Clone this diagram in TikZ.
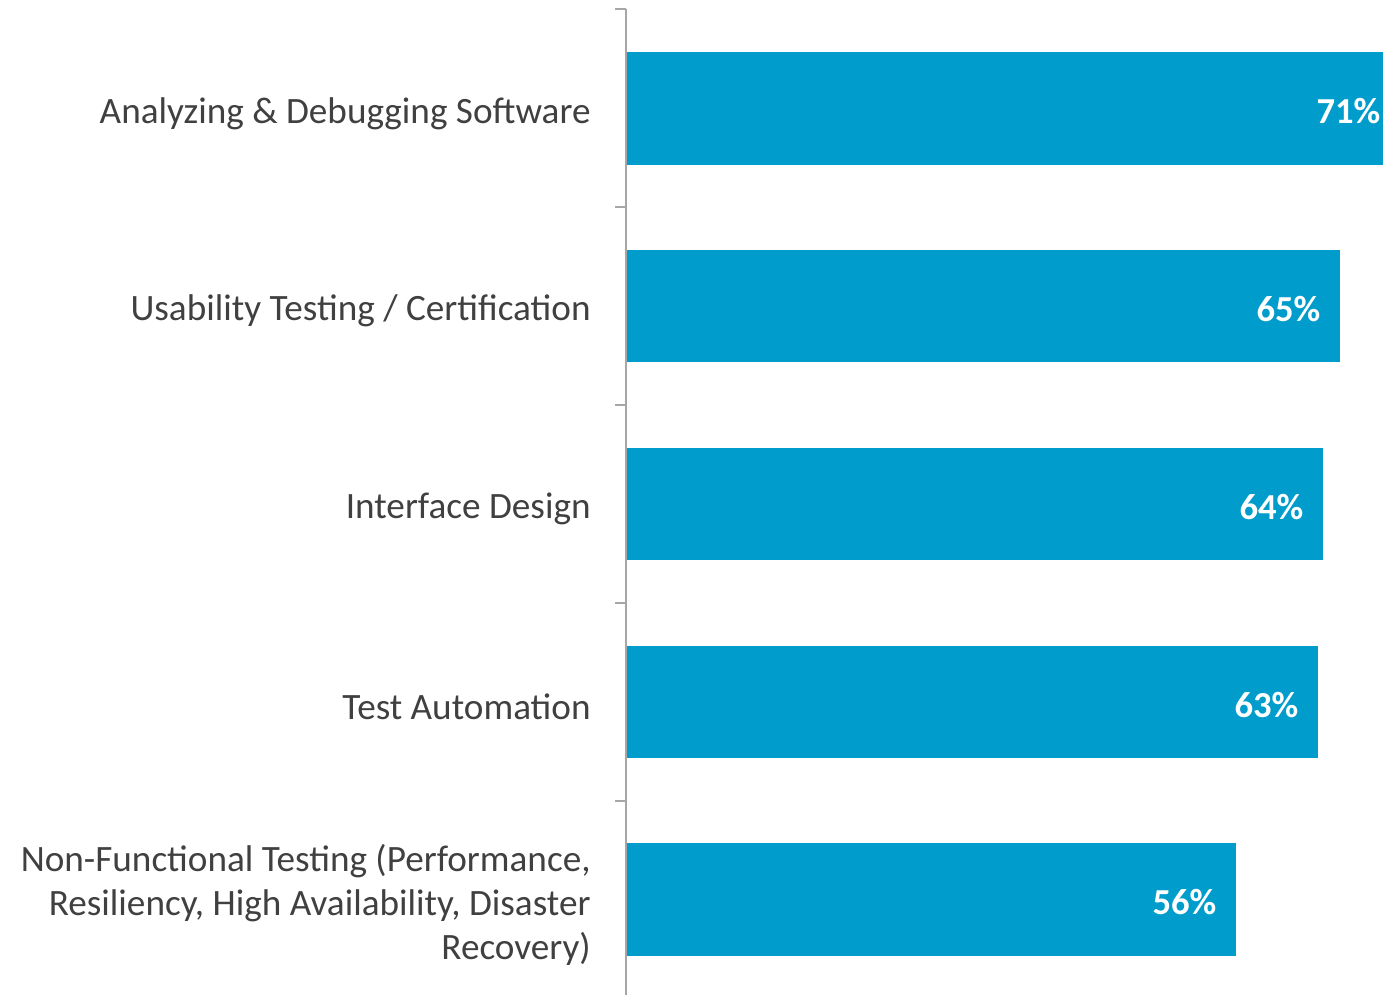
\documentclass[tikz,border=0pt]{standalone}
\usepackage{fontspec}
\setmainfont{Carlito}
\usetikzlibrary{positioning}
\definecolor{barblue}{HTML}{009CCB}
\definecolor{axisgray}{HTML}{A6A6A6}
\definecolor{labelgray}{HTML}{404040}
\tikzset{
  bar/.style={fill=barblue, draw=none, inner sep=0pt, minimum height=56.25pt, anchor=west},
  catlabel/.style={text=labelgray, align=right, anchor=east, inner sep=0pt,
    yshift=-2.5pt, font=\fontsize{18.6}{22}\selectfont},
  pct/.style={text=white, anchor=east, inner sep=0pt, yshift=-1.5pt,
    font=\fontsize{18.3}{22}\selectfont\bfseries}
}
\begin{document}
\begin{tikzpicture}[x=0.5pt, y=-0.5pt]
      \useasboundingbox (0,0) rectangle (1383,995);
      % axis
      \coordinate (top) at (626,9);
      \coordinate (bottom) at (626,995);
      \draw[axisgray, line width=1pt] (top) -- (bottom);
      \draw[axisgray, line width=1pt]
        (615,9) -- (626,9)
        (615,207) -- (626,207)
        (615,405) -- (626,405)
        (615,603) -- (626,603)
        (615,801) -- (626,801);
      % bars
      \node[bar, minimum width=378pt] (b1) at (627,108.5) {};
      \node[bar, minimum width=356.5pt] (b2) at (627,306) {};
      \node[bar, minimum width=348pt] (b3) at (627,504) {};
      \node[bar, minimum width=345.5pt] (b4) at (627,702) {};
      \node[bar, minimum width=304.5pt] (b5) at (627,899.5) {};
      % values
      \node[pct, left=1.5pt of b1.east] (v1) {71\%};
      \node[pct, left=10pt of b2.east] (v2) {65\%};
      \node[pct, left=10pt of b3.east] (v3) {64\%};
      \node[pct, left=10pt of b4.east] (v4) {63\%};
      \node[pct, left=10pt of b5.east] (v5) {56\%};
      % categories
      \node[catlabel, left=18pt of b1.west] (c1) {Analyzing \& Debugging Software};
      \node[catlabel, left=18pt of b2.west] (c2) {Usability Testing / Certification};
      \node[catlabel, left=18pt of b3.west] (c3) {Interface Design};
      \node[catlabel, left=18pt of b4.west] (c4) {Test Automation};
      \node[catlabel, left=18pt of b5.west] (c5) {Non-Functional Testing (Performance,\\Resiliency, High Availability, Disaster\\Recovery)};
    \end{tikzpicture}
\end{document}
